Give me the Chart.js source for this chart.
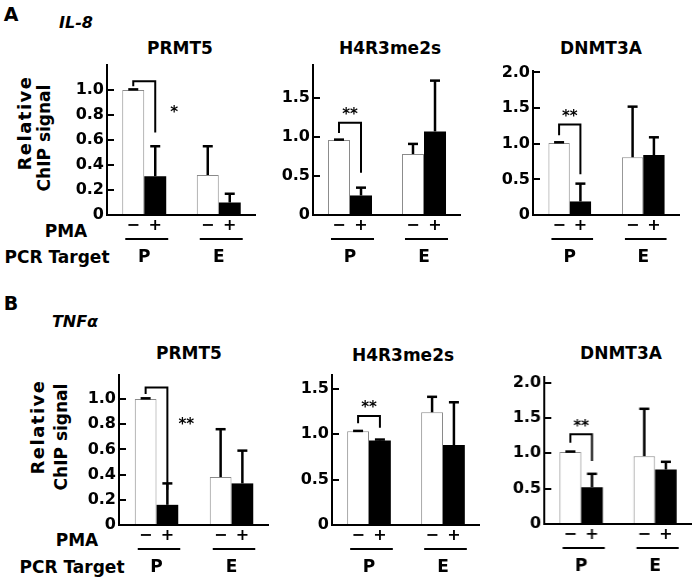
<!DOCTYPE html>
<html>
<head>
<meta charset="utf-8">
<script src="https://cdn.jsdelivr.net/npm/chart.js@4.4.1/dist/chart.umd.min.js"></script>
<style>
  body { margin: 0; background: #fff; }
  #fig { position: relative; width: 693px; height: 580px; overflow: hidden;
         font-family: 'DejaVu Sans', sans-serif; font-weight: bold; color: #000; }
  #fig canvas { position: absolute; }
  .lbl { position: absolute; white-space: nowrap; line-height: 1; transform: translate(-50%, -50%); }
  .rot { transform: translate(-50%, -50%) rotate(-90deg); }
  .it { font-style: italic; }
  .rel { font-size: 18px; letter-spacing: 1.5px; }
</style>
</head>
<body>
<div id="fig">
  <div class="lbl" style="left:11px;top:14px;font-size:19px">A</div>
  <div class="lbl it" style="left:76px;top:23px;font-size:16px">IL-8</div>
  <div class="lbl" style="left:11px;top:303px;font-size:19px">B</div>
  <div class="lbl it" style="left:75px;top:322px;font-size:16px">TNFα</div>

  <div class="lbl rot rel" style="left:25px;top:123px">Relative</div>
  <div class="lbl rot" style="left:44px;top:138px;font-size:17px">ChIP signal</div>
  <div class="lbl rot rel" style="left:38px;top:427px">Relative</div>
  <div class="lbl rot" style="left:61px;top:437px;font-size:17px">ChIP signal</div>

  <div class="lbl" style="left:66px;top:231px;font-size:17px">PMA</div>
  <div class="lbl" style="left:57px;top:257px;font-size:17px">PCR Target</div>
  <div class="lbl" style="left:77px;top:540px;font-size:17px">PMA</div>
  <div class="lbl" style="left:72px;top:567px;font-size:17px">PCR Target</div>
</div>
<script>
const groups = ['P', 'E'];
const pmaSigns = ['\u2212', '+'];
const targets = ['PRMT5', 'H4R3me2s', 'DNMT3A'];

// A: IL-8 — means for [P, E], PMA - and PMA +, and error (SD)
const il8Prmt5Minus = [1.00, 0.32];
const il8Prmt5Plus = [0.31, 0.10];
const il8Prmt5MinusSd = [0.005, 0.23];
const il8Prmt5PlusSd = [0.24, 0.07];

const il8H4Minus = [0.96, 0.78];
const il8H4Plus = [0.25, 1.07];
const il8H4MinusSd = [0.005, 0.13];
const il8H4PlusSd = [0.10, 0.65];

const il8DnmtMinus = [1.01, 0.81];
const il8DnmtPlus = [0.19, 0.84];
const il8DnmtMinusSd = [0.01, 0.71];
const il8DnmtPlusSd = [0.25, 0.25];

// B: TNFalpha
const tnfPrmt5Minus = [1.00, 0.38];
const tnfPrmt5Plus = [0.16, 0.33];
const tnfPrmt5MinusSd = [0.005, 0.38];
const tnfPrmt5PlusSd = [0.17, 0.26];

const tnfH4Minus = [1.03, 1.24];
const tnfH4Plus = [0.93, 0.88];
const tnfH4MinusSd = [0.005, 0.17];
const tnfH4PlusSd = [0.01, 0.47];

const tnfDnmtMinus = [1.02, 0.96];
const tnfDnmtPlus = [0.52, 0.77];
const tnfDnmtMinusSd = [0.005, 0.67];
const tnfDnmtPlusSd = [0.19, 0.11];

// y ticks and axis tops
const prmt5Ticks = [0, 0.2, 0.4, 0.6, 0.8, 1.0];
const h4Ticks = [0, 0.5, 1.0, 1.5];
const dnmtTicks = [0, 0.5, 1.0, 1.5, 2.0];
const il8AxisMax = [1.2, 1.92, 2.02];
const tnfAxisMax = [1.19, 1.65, 2.08];

// significance brackets over the P pair (values on the y axis)
const il8Sig = [
  { label: '*', top: 1.07, left: 1.03, right: 0.66, at: 0.86, side: true },
  { label: '**', top: 1.18, left: 1.05, right: 0.54, at: 1.34 },
  { label: '**', top: 1.27, left: 1.12, right: 0.57, at: 1.44 }
];
const tnfSig = [
  { label: '**', top: 1.09, left: 1.04, right: 0.28, at: 0.83, side: true },
  { label: '**', top: 1.20, left: 1.12, right: 1.07, at: 1.34 },
  { label: '**', top: 1.27, left: 1.15, right: 0.89, at: 1.45 }
];

// page layout: where each small plot's axes sit
const boxes = [
  { axisX: 107, top: 65, base: 215, w: 149, cat: 0.59, titleX: 180, titleY: 48 },
  { axisX: 313, top: 65, base: 215, w: 148, cat: 0.595, titleX: 390, titleY: 48 },
  { axisX: 533, top: 71, base: 215, w: 147, cat: 0.58, titleX: 601, titleY: 48 },
  { axisX: 119, top: 375, base: 525, w: 150, cat: 0.58, titleX: 189, titleY: 353 },
  { axisX: 331.5, top: 375, base: 525, w: 148.6, cat: 0.59, titleX: 403, titleY: 355 },
  { axisX: 544, top: 377, base: 524, w: 147.6, cat: 0.585, titleX: 621, titleY: 353 }
];

const panels = [
  [il8Prmt5Minus, il8Prmt5Plus, il8Prmt5MinusSd, il8Prmt5PlusSd, prmt5Ticks, il8AxisMax[0], il8Sig[0]],
  [il8H4Minus, il8H4Plus, il8H4MinusSd, il8H4PlusSd, h4Ticks, il8AxisMax[1], il8Sig[1]],
  [il8DnmtMinus, il8DnmtPlus, il8DnmtMinusSd, il8DnmtPlusSd, dnmtTicks, il8AxisMax[2], il8Sig[2]],
  [tnfPrmt5Minus, tnfPrmt5Plus, tnfPrmt5MinusSd, tnfPrmt5PlusSd, prmt5Ticks, tnfAxisMax[0], tnfSig[0]],
  [tnfH4Minus, tnfH4Plus, tnfH4MinusSd, tnfH4PlusSd, h4Ticks, tnfAxisMax[1], tnfSig[1]],
  [tnfDnmtMinus, tnfDnmtPlus, tnfDnmtMinusSd, tnfDnmtPlusSd, dnmtTicks, tnfAxisMax[2], tnfSig[2]]
];

const FONT = "'DejaVu Sans', sans-serif";
const Y_W = 42, PAD_T = 14, X_H = 58;

const annoPlugin = {
  id: 'anno',
  afterDatasetsDraw(chart, args, opts) {
    const { ctx, chartArea: ca } = chart;
    const y = chart.scales.y;
    const m0 = chart.getDatasetMeta(0), m1 = chart.getDatasetMeta(1);
    ctx.save();
    ctx.strokeStyle = '#000';
    ctx.fillStyle = '#000';
    ctx.lineCap = 'butt';

    // tick marks point inward
    ctx.lineWidth = 2;
    opts.ticks.forEach(v => {
      if (v === 0) return;
      const py = Math.round(y.getPixelForValue(v)) ;
      ctx.beginPath();
      ctx.moveTo(ca.left, py);
      ctx.lineTo(ca.left + 7, py);
      ctx.stroke();
    });

    // error bars
    opts.sd.forEach((arr, d) => {
      const meta = chart.getDatasetMeta(d);
      meta.data.forEach((bar, i) => {
        const top = y.getPixelForValue(chart.data.datasets[d].data[i] + arr[i]);
        ctx.lineWidth = 2.5;
        ctx.beginPath();
        ctx.moveTo(bar.x, bar.y);
        ctx.lineTo(bar.x, top);
        ctx.stroke();
        ctx.beginPath();
        ctx.moveTo(bar.x - 5, top);
        ctx.lineTo(bar.x + 5, top);
        ctx.stroke();
      });
    });

    // bracket + stars
    const s = opts.sig;
    const b0 = m0.data[0], b1 = m1.data[0];
    const yt = y.getPixelForValue(s.top);
    ctx.lineWidth = 2;
    ctx.beginPath();
    ctx.moveTo(b0.x, y.getPixelForValue(s.left));
    ctx.lineTo(b0.x, yt);
    ctx.lineTo(b1.x, yt);
    ctx.lineTo(b1.x, y.getPixelForValue(s.right));
    ctx.stroke();
    ctx.font = 'bold 15px ' + FONT;
    ctx.textAlign = 'center';
    ctx.textBaseline = 'alphabetic';
    const sx = s.side ? b1.x + b1.width / 2 + 8 : (b0.x + b1.x) / 2;
    ctx.fillText(s.label, sx, y.getPixelForValue(s.at) + 9);
    ctx.restore();
  },
  afterDraw(chart) {
    const { ctx, chartArea: ca } = chart;
    const m0 = chart.getDatasetMeta(0), m1 = chart.getDatasetMeta(1);
    ctx.save();
    ctx.fillStyle = '#000';
    ctx.strokeStyle = '#000';
    ctx.textAlign = 'center';
    ctx.textBaseline = 'middle';
    groups.forEach((g, i) => {
      const b0 = m0.data[i], b1 = m1.data[i];
      ctx.font = 'bold 16px ' + FONT;
      ctx.fillText(pmaSigns[0], b0.x, ca.bottom + 11);
      ctx.fillText(pmaSigns[1], b1.x, ca.bottom + 11);
      ctx.lineWidth = 2;
      ctx.beginPath();
      ctx.moveTo(b0.x - b0.width / 2 + 3, ca.bottom + 24);
      ctx.lineTo(b1.x + b1.width / 2 + 2, ca.bottom + 24);
      ctx.stroke();
      ctx.font = 'bold 17px ' + FONT;
      ctx.fillText(g, (b0.x + b1.x) / 2, ca.bottom + 43);
    });
    ctx.restore();
  }
};

const fig = document.getElementById('fig');

panels.forEach((p, k) => {
  const [minus, plus, minusSd, plusSd, tickVals, yMax, sig] = p;
  const b = boxes[k];

  const title = document.createElement('div');
  title.className = 'lbl';
  title.style.cssText = `left:${b.titleX}px;top:${b.titleY}px;font-size:17px`;
  title.textContent = targets[k % 3];
  fig.appendChild(title);

  const cv = document.createElement('canvas');
  const cw = Y_W + b.w, ch = PAD_T + (b.base - b.top) + X_H;
  cv.width = cw; cv.height = ch;
  cv.style.left = (b.axisX - Y_W) + 'px';
  cv.style.top = (b.top - PAD_T) + 'px';
  cv.style.width = cw + 'px'; cv.style.height = ch + 'px';
  fig.appendChild(cv);

  new Chart(cv.getContext('2d'), {
    type: 'bar',
    data: {
      labels: groups,
      datasets: [
        { label: 'PMA -', data: minus, backgroundColor: '#fff', borderColor: '#8a8a8a', borderWidth: 1 },
        { label: 'PMA +', data: plus, backgroundColor: '#000', borderColor: '#000', borderWidth: 0 }
      ]
    },
    options: {
      responsive: false,
      animation: false,
      devicePixelRatio: 1,
      layout: { padding: { top: PAD_T, left: 0, right: 0, bottom: 0 } },
      datasets: { bar: { barPercentage: 1.0, categoryPercentage: b.cat } },
      plugins: {
        legend: { display: false },
        tooltip: { enabled: false },
        title: { display: false },
        anno: { sd: [minusSd, plusSd], ticks: tickVals, sig: sig }
      },
      scales: {
        x: {
          offset: true,
          afterFit: s => { s.height = X_H; },
          ticks: { display: false },
          grid: { display: false, drawTicks: false },
          border: { display: true, color: '#000', width: 2, z: 1 }
        },
        y: {
          min: 0,
          max: yMax,
          afterFit: s => { s.width = Y_W; },
          afterBuildTicks: s => { s.ticks = tickVals.map(v => ({ value: v })); },
          ticks: {
            padding: 3,
            color: '#000',
            font: { family: FONT, weight: 'bold', size: 16 },
            callback: v => (v === 0 ? '0' : v.toFixed(1))
          },
          grid: { display: false, drawTicks: false },
          border: { display: true, color: '#000', width: 2, z: 1 }
        }
      }
    },
    plugins: [annoPlugin]
  });
});
</script>
</body>
</html>
